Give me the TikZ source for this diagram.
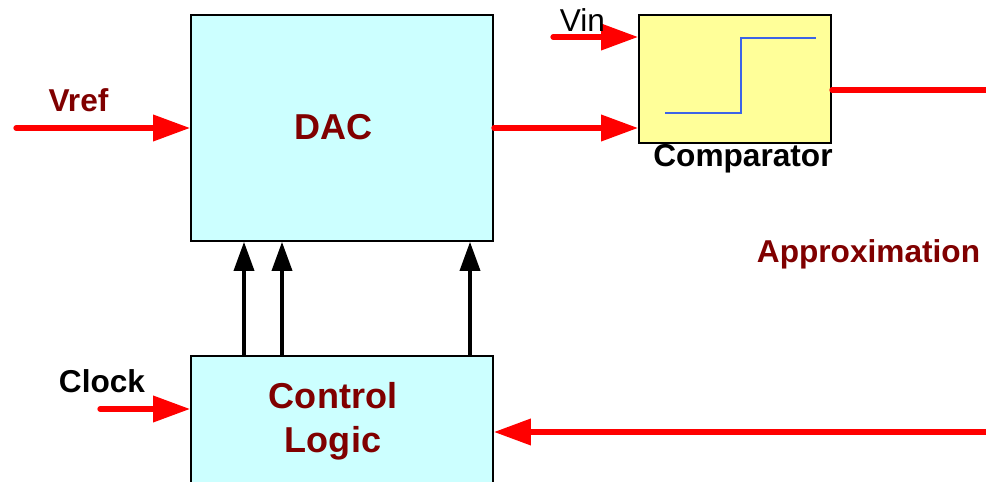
\documentclass[tikz,border=0pt]{standalone}
\usepackage{fontspec}
\setmainfont{Liberation Sans}
\usetikzlibrary{arrows.meta,calc,positioning}
\definecolor{dacfill}{RGB}{204,255,255}
\definecolor{compfill}{RGB}{255,255,153}
\definecolor{labelred}{RGB}{128,0,0}
\definecolor{stepblue}{RGB}{60,100,230}
\tikzset{
  sig/.style={-{Triangle[length=21pt,width=14.5pt]},draw=red,line width=3pt,line cap=round},
  sigline/.style={draw=red,line width=3pt,line cap=round},
  bus/.style={-{Triangle[length=16.5pt,width=11.5pt]},draw=black,line width=1.8pt},
  block/.style={
    draw=black,
    rectangle,
    line width=1.1pt,
    inner sep=0pt
  },
  blocktext/.style={font=\bfseries\fontsize{20.5}{25}\selectfont,text=labelred,align=center},
  pinlabel/.style={font=\bfseries\fontsize{18}{21}\selectfont,anchor=base}
}

\begin{document}
\begin{tikzpicture}[x=0.02cm,y=-0.02cm]
  \useasboundingbox (0,0) rectangle (986,482);

  % DAC block
  \node[block,fill=dacfill,minimum width=6.04cm,minimum height=4.52cm] (dac) at (342,128) {};
  \node[blocktext] (daclbl) at (333.5,127) {DAC};

  % Comparator with its step characteristic
  \node[block,fill=compfill,minimum width=3.84cm,minimum height=2.56cm] (comp) at (735,79) {};
  \draw[stepblue,line width=1.1pt] (665,113) -- (741,113) -- (741,38) -- (816,38);
  \node[pinlabel,text=black] (complbl) at (743,167) {Comparator};

  % Control logic (runs off the bottom edge)
  \node[block,fill=dacfill,minimum width=6.04cm,minimum height=3.4cm,anchor=north] (ctrl) at (342,355) {};
  \node[blocktext] (ctrllbl) at (333,421) {Control\\Logic};

  % Inputs
  \coordinate (vrefin) at (16,128);
  \draw[sig] (vrefin) -- (dac.west);
  \node[pinlabel,text=labelred] (vreflbl) at (78.5,112) {Vref};

  \coordinate (vinin) at (553,37);
  \draw[sig] (vinin) -- (vinin -| comp.west);
  \node[anchor=base,font=\fontsize{18}{21}\selectfont] (vinlbl) at (582.5,32) {Vin};

  \coordinate (clkin) at (100,409);
  \draw[sig] (clkin) -- (clkin -| ctrl.west);
  \node[pinlabel] (clklbl) at (102,393) {Clock};

  % DAC output into the comparator
  \draw[sig] (dac.east) -- (dac.east -| comp.west);

  % Comparator output and the loop back
  \coordinate (compout) at (986,90);
  \draw[sigline] (compout -| comp.east) -- (compout);
  \node[pinlabel,text=labelred] (approxlbl) at (868.5,263) {Approximation};

  \coordinate (sarin) at (986,432);
  \draw[sig] (sarin) -- (sarin -| ctrl.east);

  % Control bits to the DAC
  \coordinate (bit1) at (244,0);
  \coordinate (bit2) at (282,0);
  \coordinate (bit3) at (470,0);
  \foreach \bit in {bit1,bit2,bit3} {
    \draw[bus] (ctrl.north -| \bit) -- (dac.south -| \bit);
  }
\end{tikzpicture}
\end{document}
